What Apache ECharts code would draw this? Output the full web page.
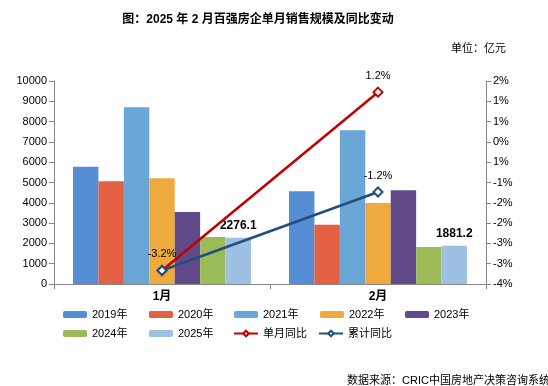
<!DOCTYPE html>
<html><head><meta charset="utf-8">
<script src="https://cdn.jsdelivr.net/npm/echarts@6/dist/echarts.min.js"></script>
<style>html,body{margin:0;padding:0;background:#fff}#c{width:548px;height:386px}</style>
</head><body><div id="c"></div>
<script>
var categories = ['1月', '2月'];
var s2019 = [5770, 4575];
var s2020 = [5066, 2918];
var s2021 = [8706, 7575];
var s2022 = [5214, 3984];
var s2023 = [3541, 4624];
var s2024 = [2312, 1820];
var s2025 = [2276.1, 1881.2];
var monthYoY = [-3.6, 1.67];
var cumYoY = [-3.6, -1.28];
var monthYoYLabels = ['', '1.2%'];
var cumYoYLabels = ['-3.2%', '-1.2%'];
var barLabels2025 = ['2276.1', '1881.2'];
var rightTickLabels = ['-4%', '-3%', '-3%', '-2%', '-2%', '-1%', '1%', '0%', '1%', '1%', '2%'];

var FF = '"Liberation Sans", "Noto Sans CJK SC", sans-serif';
var axisGray = '#868686';
var barNames = ['2019年','2020年','2021年','2022年','2023年','2024年','2025年'];
var barData = [s2019, s2020, s2021, s2022, s2023, s2024, s2025];
var barColors = ['#558ed5','#e46042','#6aa6d6','#eeaa3c','#604a8a','#9bbb59','#9dc0e3'];

var series = barNames.map(function(n, i){
  var s = {
    name: n, type: 'bar', data: barData[i], barGap: '0%', barCategoryGap: '17.6%',
    itemStyle: {color: barColors[i]}, z: 2
  };
  if (i === 6) {
    s.label = {show: true, position: 'top', distance: 6, color: '#000', fontSize: 12, fontWeight: 'bold',
      fontFamily: FF, formatter: function(p){ return barLabels2025[p.dataIndex]; }};
  }
  return s;
});
series.push({
  name: '单月同比', type: 'line', yAxisIndex: 1, data: monthYoY, z: 5,
  symbol: 'diamond', symbolSize: 9,
  lineStyle: {color: '#c00000', width: 2.5},
  itemStyle: {color: '#fff', borderColor: '#c00000', borderWidth: 2},
  label: {show: true, position: 'top', distance: 5, color: '#000', fontSize: 11, fontFamily: FF,
    formatter: function(p){ return monthYoYLabels[p.dataIndex]; }}
});
series.push({
  name: '累计同比', type: 'line', yAxisIndex: 1, data: cumYoY, z: 6,
  symbol: 'diamond', symbolSize: 9,
  lineStyle: {color: '#254d80', width: 2.5},
  itemStyle: {color: '#fff', borderColor: '#254d80', borderWidth: 2},
  label: {show: true, position: 'top', distance: 5, color: '#000', fontSize: 11, fontFamily: FF,
    formatter: function(p){ return cumYoYLabels[p.dataIndex]; }}
});

var legendPos = [
  ['2019年', 63, 309], ['2020年', 149, 309], ['2021年', 234, 309], ['2022年', 320, 309], ['2023年', 405, 309],
  ['2024年', 63, 328], ['2025年', 149, 328], ['单月同比', 233, 328], ['累计同比', 318, 328]
];
var legends = legendPos.map(function(l){
  return {data: [l[0]], left: l[1], top: l[2], itemWidth: 24, itemHeight: 7, itemGap: 0, padding: 0,
    textStyle: {fontSize: 11, color: '#000', fontFamily: FF}, selectedMode: false};
});

var chart = echarts.init(document.getElementById('c'));
chart.setOption({
  animation: false,
  backgroundColor: '#fff',
  title: [
    {text: '图：2025 年 2 月百强房企单月销售规模及同比变动', left: 253, textAlign: 'center', top: 9,
      textStyle: {fontSize: 12, fontWeight: 'bold', color: '#000', fontFamily: FF}},
    {text: '单位：亿元', right: 37, top: 38, textStyle: {fontSize: 11, fontWeight: 'normal', color: '#000', fontFamily: FF}},
    {text: '数据来源：CRIC中国房地产决策咨询系统', left: 342, top: 370, textStyle: {fontSize: 11, fontWeight: 'normal', color: '#000', fontFamily: FF}}
  ],
  legend: legends,
  grid: {left: 54, right: 62, top: 81, bottom: 102, containLabel: false},
  xAxis: {
    type: 'category', data: categories,
    axisLine: {lineStyle: {color: axisGray, width: 1}},
    axisTick: {show: true, alignWithLabel: false, length: 5, lineStyle: {color: axisGray}},
    axisLabel: {color: '#000', fontSize: 12, fontWeight: 'bold', fontFamily: FF, margin: 7}
  },
  yAxis: [
    {type: 'value', min: 0, max: 10000, interval: 1000,
      axisLine: {show: true, lineStyle: {color: axisGray}},
      axisTick: {show: true, length: 5, lineStyle: {color: axisGray}},
      splitLine: {show: false},
      axisLabel: {color: '#000', fontSize: 11, fontFamily: FF, margin: 7,
        formatter: function(v){ return String(v); }}},
    {type: 'value', min: -4, max: 2, interval: 0.6, position: 'right',
      axisLine: {show: true, lineStyle: {color: axisGray}},
      axisTick: {show: true, length: 5, lineStyle: {color: axisGray}},
      splitLine: {show: false},
      axisLabel: {color: '#000', fontSize: 11, fontFamily: FF, margin: 7,
        formatter: function(v, i){ return rightTickLabels[i]; }}}
  ],
  series: series
});
</script></body></html>
